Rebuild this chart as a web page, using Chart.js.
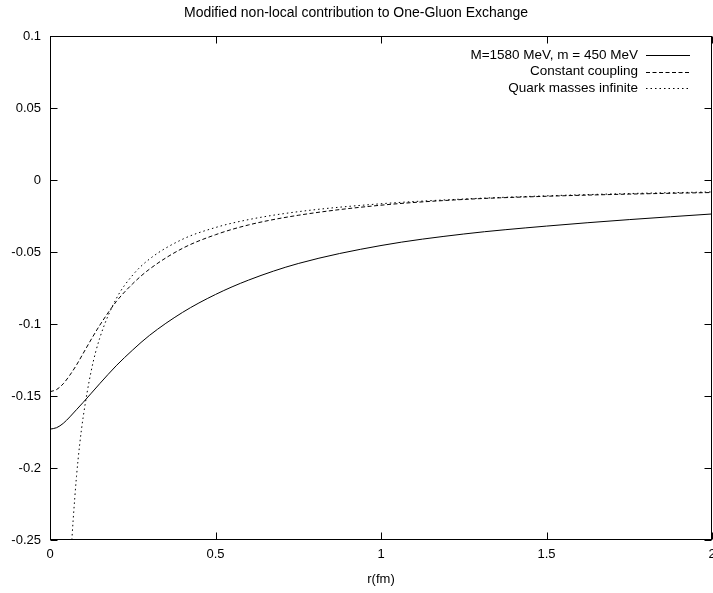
<!DOCTYPE html>
<html>
<head>
<meta charset="utf-8">
<script src="https://cdn.jsdelivr.net/npm/chart.js@4.4.0/dist/chart.umd.min.js"></script>
<style>
  html,body{margin:0;padding:0;background:#fff;}
  #wrap{width:713px;height:593px;position:relative;}
</style>
</head>
<body>
<div id="wrap"><canvas id="c" width="713" height="593"></canvas></div>
<script>
// values
const titleText = 'Modified non-local contribution to One-Gluon Exchange';
const xTitle = 'r(fm)';

const rFull = [0, 0.02, 0.04, 0.06, 0.08, 0.1, 0.125, 0.15, 0.2, 0.25, 0.3, 0.4, 0.5, 0.6, 0.75, 1, 1.25, 1.5, 1.75, 2];
const massiveVals = [-0.173, -0.172, -0.169, -0.1645, -0.1595, -0.1545, -0.148, -0.1415, -0.129, -0.118, -0.108, -0.092, -0.0795, -0.0695, -0.058, -0.0455, -0.0375, -0.032, -0.0275, -0.0236];
const constVals = [-0.147, -0.1455, -0.1415, -0.1355, -0.1285, -0.1205, -0.1105, -0.1010, -0.0845, -0.0720, -0.0620, -0.0475, -0.0380, -0.0312, -0.0245, -0.0175, -0.0135, -0.0113, -0.0098, -0.0087];

const rInf = [0.066, 0.07, 0.08, 0.09, 0.1, 0.125, 0.15, 0.2, 0.25, 0.3, 0.4, 0.5, 0.6, 0.75, 1, 1.25, 1.5, 1.75, 2];
const infVals = [-0.25, -0.236, -0.206, -0.183, -0.165, -0.132, -0.110, -0.0825, -0.066, -0.055, -0.0412, -0.033, -0.0275, -0.022, -0.0165, -0.0132, -0.011, -0.0094, -0.0083];

const seriesLabels = ['M=1580 MeV, m = 450 MeV', 'Constant coupling', 'Quark masses infinite'];
const xTicks = [0, 0.5, 1, 1.5, 2];
const yTicks = [0.1, 0.05, 0, -0.05, -0.1, -0.15, -0.2, -0.25];

const FONT = '"Liberation Sans", Arial, sans-serif';

function pts(xs, ys){ return xs.map((x,i)=>({x:x, y:ys[i]})); }

// frame + inward ticks on all four sides, like gnuplot
const framePlugin = {
  id:'frame',
  afterDraw(chart){
    const {ctx, chartArea:a, scales} = chart;
    const L = Math.round(a.left)+0.5, R = Math.round(a.right)-0.5;
    const T = Math.round(a.top)+0.5, B = Math.round(a.bottom)-0.5;
    ctx.save();
    ctx.strokeStyle = '#000'; ctx.lineWidth = 1;
    ctx.strokeRect(L, T, R-L, B-T);
    const tl = 7;
    ctx.beginPath();
    for(const v of xTicks){
      const px = Math.round(scales.x.getPixelForValue(v))+0.5;
      ctx.moveTo(px, B); ctx.lineTo(px, B-tl);
      ctx.moveTo(px, T); ctx.lineTo(px, T+tl);
    }
    for(const v of yTicks){
      const py = Math.round(scales.y.getPixelForValue(v))+0.5;
      ctx.moveTo(L, py); ctx.lineTo(L+tl, py);
      ctx.moveTo(R, py); ctx.lineTo(R-tl, py);
    }
    ctx.stroke();
    ctx.restore();
  }
};

// gnuplot-style key: right-aligned text, sample line on the right
const keyPlugin = {
  id:'key',
  afterDatasetsDraw(chart){
    const {ctx, chartArea:a} = chart;
    ctx.save();
    ctx.font = '13.5px ' + FONT;
    ctx.fillStyle = '#000';
    ctx.textAlign = 'right';
    ctx.textBaseline = 'middle';
    chart.data.datasets.forEach((ds,i)=>{
      const y = a.top + 19 + i*16.5;
      ctx.fillText(ds.label, a.right - 74, y);
      ctx.beginPath();
      ctx.setLineDash(ds.borderDash || []);
      ctx.strokeStyle = '#000'; ctx.lineWidth = 1;
      ctx.moveTo(a.right - 66, Math.round(y)+0.5);
      ctx.lineTo(a.right - 22, Math.round(y)+0.5);
      ctx.stroke();
    });
    ctx.restore();
  }
};

const lineStyle = {borderColor:'#000', borderWidth:1, pointRadius:0, fill:false, cubicInterpolationMode:'monotone'};

new Chart(document.getElementById('c'), {
  type:'line',
  data:{
    datasets:[
      Object.assign({label:seriesLabels[0], data:pts(rFull, massiveVals)}, lineStyle),
      Object.assign({label:seriesLabels[1], data:pts(rFull, constVals), borderDash:[4,2.5]}, lineStyle),
      Object.assign({label:seriesLabels[2], data:pts(rInf, infVals), borderDash:[1.5,3]}, lineStyle)
    ]
  },
  options:{
    responsive:false,
    animation:false,
    events:[],
    layout:{autoPadding:false, padding:{left:0, right:1, top:0, bottom:0}},
    plugins:{
      legend:{display:false},
      tooltip:{enabled:false},
      title:{display:true, text:titleText, color:'#000', font:{family:FONT, size:14, weight:'normal'}, padding:{top:5, bottom:14.2}}
    },
    scales:{
      x:{
        type:'linear', min:0, max:2,
        grid:{display:false, drawTicks:false},
        border:{display:false},
        afterBuildTicks(s){ s.ticks = xTicks.map(v=>({value:v})); },
        afterFit(s){ s.height = 53; s.paddingLeft = 0; s.paddingRight = 0; },
        ticks:{color:'#000', padding:7, maxRotation:0, font:{family:FONT, size:13}, callback:v=>String(v)},
        title:{display:true, text:xTitle, color:'#000', padding:{top:0, bottom:6}, font:{family:FONT, size:13}}
      },
      y:{
        min:-0.25, max:0.1,
        grid:{display:false, drawTicks:false},
        border:{display:false},
        afterBuildTicks(s){ s.ticks = yTicks.map(v=>({value:v})); },
        afterFit(s){ s.width = 50; s.paddingTop = 0; s.paddingBottom = 0; },
        ticks:{color:'#000', padding:9, font:{family:FONT, size:13}, callback:v=>String(Math.round(v*100)/100)}
      }
    }
  },
  plugins:[framePlugin, keyPlugin]
});
</script>
</body>
</html>
